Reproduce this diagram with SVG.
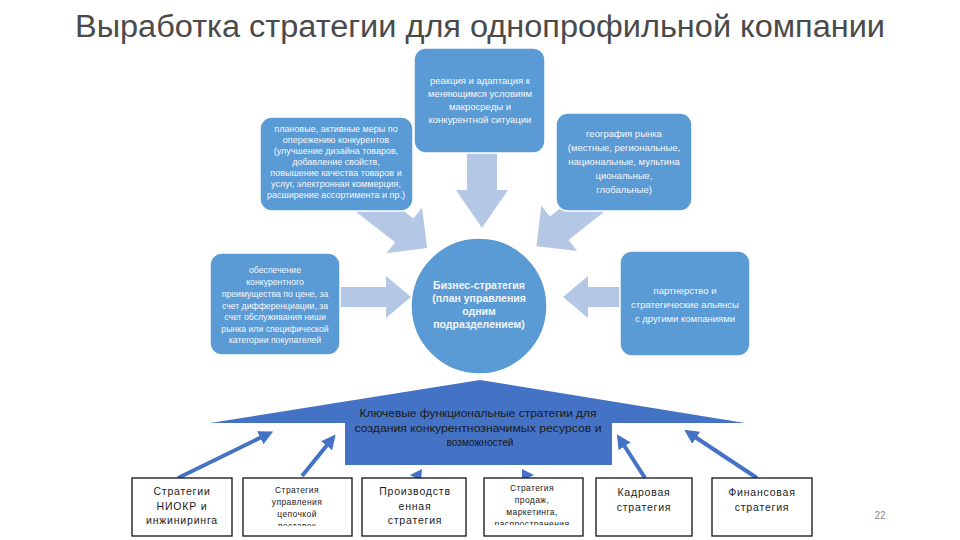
<svg xmlns="http://www.w3.org/2000/svg" width="960" height="540" viewBox="0 0 960 540">
<defs>
<style>
.t{font-family:"Liberation Sans",Arial,sans-serif;text-anchor:middle}
.wb{fill:#f4f7fb;font-size:9px}
.box{fill:#5b9bd5;stroke:#ffffff;stroke-width:1.5}
.la{fill:#b4c8e6}
.bb{fill:#ffffff;stroke:#111111;stroke-width:1.3}
.bt{fill:#1a1a1a;font-size:10.5px;letter-spacing:0.8px}
.bs{fill:#1a1a1a;font-size:8.5px;letter-spacing:0.4px}
.ba{stroke:#4472c4;stroke-width:4;fill:none;marker-end:url(#ah)}
</style>
<marker id="ah" viewBox="0 0 10 10" refX="6" refY="5" markerWidth="3.6" markerHeight="3.6" orient="auto" markerUnits="strokeWidth">
<path d="M0,0 L10,5 L0,10 Z" fill="#4472c4"/>
</marker>
<clipPath id="c2"><rect x="243" y="478" width="110" height="48"/></clipPath>
<clipPath id="c4"><rect x="484" y="478" width="100" height="47"/></clipPath>
</defs>
<rect width="960" height="540" fill="#ffffff"/>
<text x="480" y="37" font-family="'Liberation Sans',Arial,sans-serif" font-size="31" fill="#4a4a4a" text-anchor="middle" textLength="810" lengthAdjust="spacingAndGlyphs">Выработка стратегии для однопрофильной компании</text>

<g id="connectors">
<path class="la" d="M467,150 H497 V190 H508 L482,228 L456,190 H467 Z"/>
<path class="la" transform="translate(360,196) rotate(37.8)" d="M0,-15 H56 V-29 L85,0 L56,29 V15 H0 Z"/>
<path class="la" transform="translate(600,196) rotate(141.6)" d="M0,-15 H52 V-29 L81,0 L52,29 V15 H0 Z"/>
<path class="la" d="M338,287 H386 V276 L411,297 L386,318 V307 H338 Z"/>
<path class="la" d="M622,287 H588 V276 L563,297 L588,318 V307 H622 Z"/>
<line class="ba" x1="178" y1="478" x2="268" y2="434"/>
<line class="ba" x1="302" y1="476" x2="332" y2="439"/>
<line class="ba" x1="645" y1="478" x2="620" y2="439"/>
<line class="ba" x1="757" y1="478" x2="689" y2="433"/>
<polygon points="410,475 422,469 421,481" fill="#4472c4"/>
<polygon points="522,469 534,475 522,481" fill="#4472c4"/>
</g>

<g id="n-planned">
<rect class="box" x="260" y="117" width="153" height="94" rx="12"/>
<text class="t wb" font-size="8.5"><tspan x="336" y="132">плановые, активные меры по</tspan><tspan x="336" y="143">опережению конкурентов</tspan><tspan x="336" y="154">(улучшение дизайна товаров,</tspan><tspan x="336" y="165">добавление свойств,</tspan><tspan x="336" y="176">повышение качества товаров и</tspan><tspan x="336" y="187">услуг, электронная коммерция,</tspan><tspan x="336" y="198">расширение ассортимента и пр.)</tspan></text>
</g>

<g id="n-reaction">
<rect class="box" x="414" y="48" width="131" height="105" rx="12"/>
<text class="t wb" style="font-size:9.5px"><tspan x="480" y="84">реакция и адаптация к</tspan><tspan x="480" y="97">меняющимся условиям</tspan><tspan x="480" y="110">макросреды и</tspan><tspan x="480" y="123">конкурентной ситуации</tspan></text>
</g>

<g id="n-geo">
<rect class="box" x="556" y="113" width="136" height="98" rx="12"/>
<text class="t wb" style="font-size:9.5px"><tspan x="624" y="137">география рынка</tspan><tspan x="624" y="151">(местные, региональные,</tspan><tspan x="624" y="165">национальные, мультина</tspan><tspan x="624" y="179">циональные,</tspan><tspan x="624" y="193">глобальные)</tspan></text>
</g>

<g id="n-advantage">
<rect class="box" x="210" y="253" width="130" height="102" rx="12"/>
<text class="t wb" style="font-size:8.7px"><tspan x="275" y="273">обеспечение</tspan><tspan x="275" y="285">конкурентного</tspan><tspan x="275" y="297">преимущества по цене, за</tspan><tspan x="275" y="309">счет дифференциации, за</tspan><tspan x="275" y="320">счет обслуживания ниши</tspan><tspan x="275" y="332">рынка или специфической</tspan><tspan x="275" y="343">категории покупателей</tspan></text>
</g>

<g id="n-partner">
<rect class="box" x="620" y="251" width="130" height="105" rx="12"/>
<text class="t wb" style="font-size:9.5px"><tspan x="685" y="294">партнерство и</tspan><tspan x="685" y="308">стратегические альянсы</tspan><tspan x="685" y="322">с другими компаниями</tspan></text>
</g>

<g id="n-functional">
<polygon points="210,423 480,380 745,423 612,423 612,465 345,465 345,423" fill="#4472c4"/>
<text class="t" fill="#1a1a1a" font-size="10"><tspan x="478" y="417" textLength="237" lengthAdjust="spacingAndGlyphs">Ключевые функциональные стратегии для</tspan><tspan x="478" y="432" textLength="247" lengthAdjust="spacingAndGlyphs">создания конкурентнозначимых ресурсов и</tspan><tspan x="480" y="446" textLength="67" lengthAdjust="spacingAndGlyphs">возможностей</tspan></text>
</g>

<g id="n-business">
<circle cx="479" cy="306" r="68" fill="#5b9bd5" stroke="#ffffff" stroke-width="1.5"/>
<text class="t" fill="#f4f7fb" font-size="10.5" font-weight="bold"><tspan x="479" y="289">Бизнес-стратегия</tspan><tspan x="479" y="302">(план управления</tspan><tspan x="479" y="315">одним</tspan><tspan x="479" y="328">подразделением)</tspan></text>
</g>

<g id="n-rnd">
<rect class="bb" x="132" y="478" width="100" height="58"/>
<text class="t bt"><tspan x="182" y="495">Стратегии</tspan><tspan x="182" y="510">НИОКР и</tspan><tspan x="182" y="524">инжиниринга</tspan></text>
</g>

<g id="n-supply">
<rect class="bb" x="243" y="478" width="109" height="58"/>
<text class="t bs" clip-path="url(#c2)"><tspan x="297" y="493">Стратегия</tspan><tspan x="297" y="505">управления</tspan><tspan x="297" y="517">цепочкой</tspan><tspan x="297" y="529">поставок</tspan></text>
</g>

<g id="n-production">
<rect class="bb" x="362" y="478" width="104" height="58"/>
<text class="t bt"><tspan x="415" y="495">Производств</tspan><tspan x="415" y="510">енная</tspan><tspan x="415" y="524">стратегия</tspan></text>
</g>

<g id="n-sales">
<rect class="bb" x="484" y="478" width="99" height="58"/>
<text class="t bs" clip-path="url(#c4)"><tspan x="532" y="491">Стратегия</tspan><tspan x="532" y="503">продаж,</tspan><tspan x="532" y="515">маркетинга,</tspan><tspan x="532" y="527">распространения</tspan></text>
</g>

<g id="n-hr">
<rect class="bb" x="596" y="478" width="96" height="58"/>
<text class="t bt"><tspan x="644" y="496">Кадровая</tspan><tspan x="644" y="511">стратегия</tspan></text>
</g>

<g id="n-finance">
<rect class="bb" x="712" y="478" width="100" height="58"/>
<text class="t bt"><tspan x="762" y="496">Финансовая</tspan><tspan x="762" y="511">стратегия</tspan></text>
</g>

<text x="880" y="519" font-family="'Liberation Sans',Arial,sans-serif" font-size="10" fill="#8a8a8a" text-anchor="middle">22</text>
</svg>
